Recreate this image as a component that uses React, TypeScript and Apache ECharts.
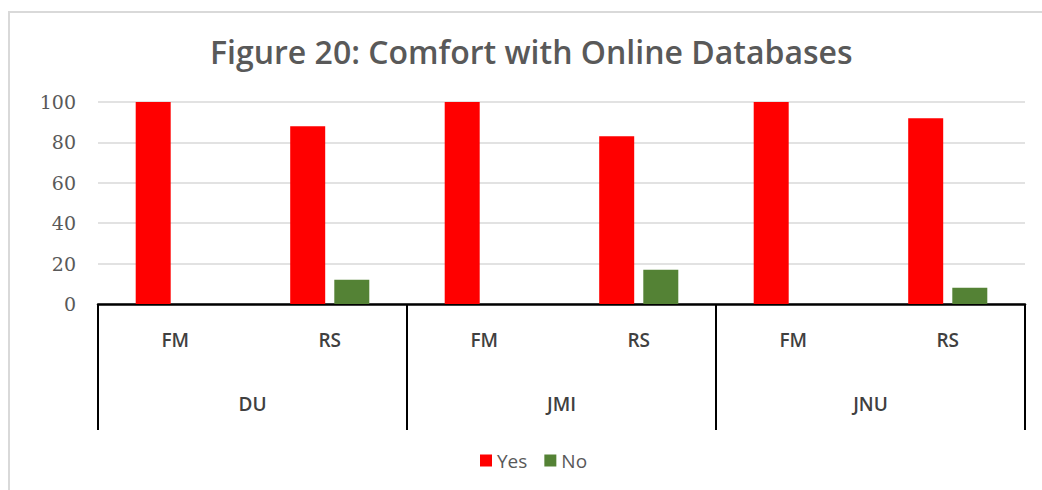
import React, { useEffect, useRef } from "react";
import * as echarts from "echarts";

const title = "Figure 20: Comfort with Online Databases";
const subCategories = ["FM", "RS", "FM", "RS", "FM", "RS"];
const groups = ["DU", "JMI", "JNU"];
const yesValues = [100, 88, 100, 83, 100, 92];
const noValues = [0, 12, 0, 17, 0, 8];
const yTicks = [0, 20, 40, 60, 80, 100];

export default function App() {
  const ref = useRef<HTMLDivElement>(null);
  useEffect(() => {
    document.body.style.margin = "0";
    const chart = echarts.init(ref.current!, null, { renderer: "svg" });
    chart.setOption({
      animation: false,
      backgroundColor: "#ffffff",
      title: {
        text: title,
        left: 205,
        top: 30,
        textStyle: {
          fontFamily: "Open Sans",
          fontWeight: 600,
          fontSize: 32,
          color: "#595959",
        },
      },
      graphic: [
        {
          type: "rect",
          shape: { x: 9, y: 12, width: 1100, height: 600 },
          style: { fill: "none", stroke: "#d9d9d9", lineWidth: 2 },
          silent: true,
          z: -10,
        },
      ],
      legend: {
        data: ["Yes", "No"],
        bottom: 15,
        left: 475,
        icon: "rect",
        itemWidth: 12,
        itemHeight: 12,
        itemGap: 17,
        textStyle: { fontFamily: "Open Sans", fontSize: 19, color: "#595959" },
      },
      grid: { left: 98, right: 17, top: 102, bottom: 186, containLabel: false },
      xAxis: [
        {
          type: "category",
          data: subCategories,
          position: "bottom",
          axisLine: { show: true, lineStyle: { color: "#000000", width: 2.5 } },
          axisTick: { show: false },
          axisLabel: {
            margin: 26,
            fontFamily: "Open Sans",
            fontWeight: 600,
            fontSize: 19,
            color: "#404040",
          },
        },
        {
          type: "category",
          data: groups,
          position: "bottom",
          axisLine: { show: false },
          axisTick: { show: true, length: 126, interval: 0, lineStyle: { color: "#000000", width: 2 } },
          axisLabel: {
            margin: 90,
            fontFamily: "Open Sans",
            fontWeight: 600,
            fontSize: 19,
            color: "#404040",
          },
        },
      ],
      yAxis: {
        type: "value",
        min: yTicks[0],
        max: yTicks[yTicks.length - 1],
        interval: 20,
        axisLine: { show: false },
        axisTick: { show: false },
        splitLine: { lineStyle: { color: "#d9d9d9", width: 1.5 } },
        axisLabel: {
          margin: 22,
          fontFamily: "DejaVu Serif",
          fontSize: 19,
          color: "#595959",
        },
      },
      series: [
        {
          name: "Yes",
          type: "bar",
          data: yesValues,
          barWidth: 35,
          barGap: "26%",
          itemStyle: { color: "#ff0000" },
        },
        {
          name: "No",
          type: "bar",
          data: noValues,
          barWidth: 35,
          barGap: "26%",
          itemStyle: { color: "#548235" },
        },
      ],
    });
    return () => chart.dispose();
  }, []);
  return <div ref={ref} style={{ width: 1042, height: 490 }} />;
}
